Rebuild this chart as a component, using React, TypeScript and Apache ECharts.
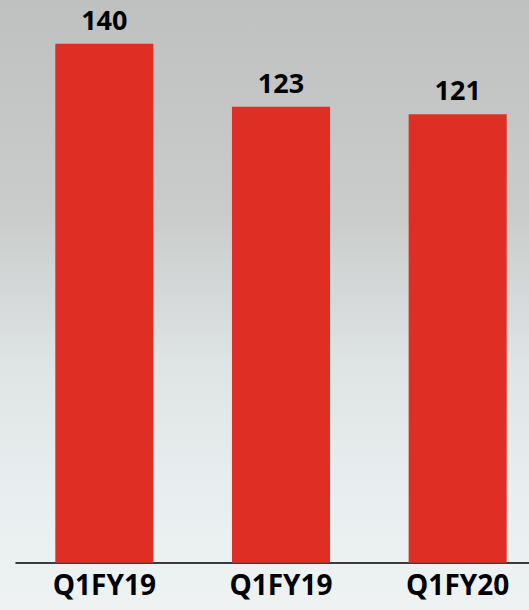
import React, { useEffect, useRef } from "react";
import * as echarts from "echarts";

const categories = ["Q1FY19", "Q1FY19", "Q1FY20"];
const values = [140, 123, 121];

export default function App() {
  const ref = useRef<HTMLDivElement>(null);
  useEffect(() => {
    if (!ref.current) return;
    const chart = echarts.init(ref.current, undefined, { renderer: "svg" });
    chart.setOption({
      animation: false,
      backgroundColor: {
        type: "linear",
        x: 0,
        y: 0,
        x2: 0,
        y2: 1,
        colorStops: [
          { offset: 0, color: "#bfc1c0" },
          { offset: 0.35, color: "#c9cccb" },
          { offset: 0.6, color: "#dfe4e4" },
          { offset: 0.8, color: "#e8eeef" },
          { offset: 1, color: "#eef2f3" },
        ],
      },
      grid: { left: 16, right: 0, top: 6.7, bottom: 47.3, containLabel: false },
      xAxis: {
        type: "category",
        data: categories,
        axisLine: { show: true, lineStyle: { color: "#000", width: 1.5 } },
        axisTick: { show: false },
        axisLabel: {
          color: "#000",
          fontFamily: "Open Sans",
          fontWeight: "bold",
          fontSize: 28,
          margin: 7,
        },
      },
      yAxis: {
        type: "value",
        min: 0,
        max: 150,
        show: false,
        splitLine: { show: false },
      },
      series: [
        {
          type: "bar",
          data: values,
          barWidth: "55.5%",
          itemStyle: { color: "#df2e23" },
          label: {
            show: true,
            position: "top",
            distance: 11,
            color: "#000",
            fontFamily: "Open Sans",
            fontWeight: "bold",
            fontSize: 27,
          },
        },
      ],
    });
    return () => chart.dispose();
  }, []);
  return (
    <div style={{ position: "absolute", left: 0, top: 0, width: 529, height: 610, overflow: "hidden" }}>
      <div ref={ref} style={{ width: 546, height: 610 }} />
    </div>
  );
}
